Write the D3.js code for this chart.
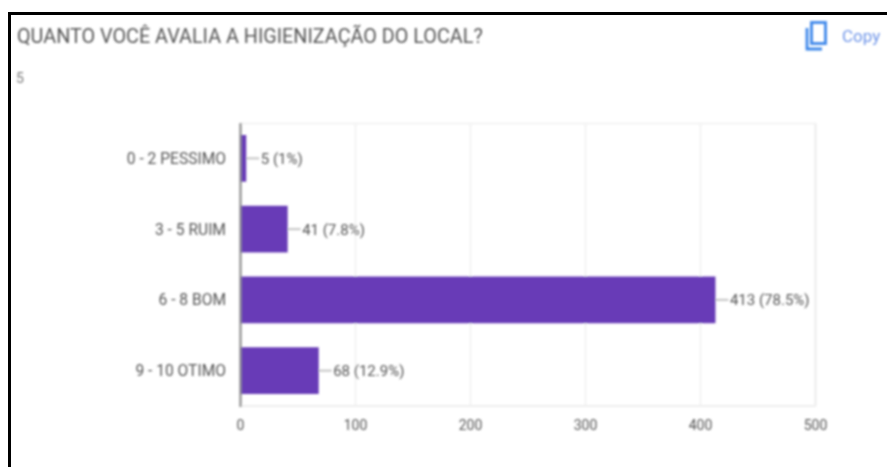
<!DOCTYPE html>
<html><head><meta charset="utf-8">
<script src="https://cdn.jsdelivr.net/npm/d3@7"></script>
<style>html,body{margin:0;background:#fff;overflow:hidden}svg{display:block}text{font-family:Roboto,Arial,sans-serif}</style>
</head><body><svg id="c" width="887" height="467"></svg>
<script>
const categories = ["0 - 2 PESSIMO", "3 - 5 RUIM", "6 - 8 BOM", "9 - 10 OTIMO"];
const values = [5, 41, 413, 68];
const percentLabels = ["1%", "7.8%", "78.5%", "12.9%"];
const xTicks = [0, 100, 200, 300, 400, 500];
const titleText = "QUANTO VOCÊ AVALIA A HIGIENIZAÇÃO DO LOCAL?";

const svg = d3.select("#c");
const defs = svg.append("defs");
defs.append("filter").attr("id","soft").attr("x","-5%").attr("y","-5%").attr("width","110%").attr("height","110%")
  .append("feGaussianBlur").attr("stdDeviation",0.8);
svg.append("path").attr("d","M9.5,467V13.5H887").attr("fill","none").attr("stroke","#000").attr("stroke-width",3);
const root = svg.append("g").attr("filter","url(#soft)");

const x = d3.scaleLinear().domain([0,500]).range([240.5,815.5]);
const y = d3.scaleBand().domain(categories).range([123,406]).paddingInner(0.34).paddingOuter(0.17);

root.append("text").attr("x",17).attr("y",43).attr("font-size",19.8).attr("fill","#555").text(titleText);
root.append("text").attr("x",16).attr("y",83).attr("font-size",14).attr("fill","#777").text("5");

// copy control
const ic = root.append("g").attr("fill","none").attr("stroke","#3d88ea").attr("stroke-width",2.8);
ic.append("rect").attr("x",811.5).attr("y",22.5).attr("width",14).attr("height",21);
ic.append("path").attr("d","M807,28V49H822");
root.append("text").attr("x",842).attr("y",42).attr("font-size",17).attr("fill","#6f95e8").text("Copy");

// grid
root.append("g").selectAll("line").data(xTicks.slice(1)).join("line")
  .attr("x1",d=>x(d)).attr("x2",d=>x(d)).attr("y1",123).attr("y2",406)
  .attr("stroke",d=>d===500?"#ebebeb":"#f0f0f0").attr("stroke-width",d=>d===500?2:1.5);
root.append("line").attr("x1",240).attr("x2",816).attr("y1",123.5).attr("y2",123.5).attr("stroke","#f3f3f3").attr("stroke-width",2);
root.append("line").attr("x1",240).attr("x2",816).attr("y1",406).attr("y2",406).attr("stroke","#eeeeee").attr("stroke-width",2);

// leader lines
root.append("g").selectAll("line").data(values).join("line")
  .attr("x1",d=>x(d)).attr("x2",d=>x(d)+13)
  .attr("y1",(d,i)=>y(categories[i])+y.bandwidth()/2).attr("y2",(d,i)=>y(categories[i])+y.bandwidth()/2)
  .attr("stroke","#c4c4c4").attr("stroke-width",2);

// bars
root.append("g").selectAll("rect").data(values).join("rect")
  .attr("x",x(0)).attr("y",(d,i)=>y(categories[i])).attr("width",d=>x(d)-x(0))
  .attr("height",y.bandwidth()).attr("fill","#673ab7");

// axis line
root.append("line").attr("x1",240.5).attr("x2",240.5).attr("y1",123).attr("y2",407).attr("stroke","#888").attr("stroke-width",2.5).attr("opacity",.85);

// category labels
root.append("g").selectAll("text").data(categories).join("text")
  .attr("x",226).attr("y",d=>y(d)+y.bandwidth()/2).attr("dy","0.36em").attr("text-anchor","end")
  .attr("font-size",15.6).attr("fill","#555").text(d=>d);

// value labels
root.append("g").selectAll("text").data(values).join("text")
  .attr("x",d=>x(d)+14.5).attr("y",(d,i)=>y(categories[i])+y.bandwidth()/2).attr("dy","0.36em")
  .attr("font-size",15).attr("fill","#555").text((d,i)=>`${d} (${percentLabels[i]})`);

// x tick labels
root.append("g").selectAll("text").data(xTicks).join("text")
  .attr("x",d=>x(d)).attr("y",430).attr("text-anchor","middle")
  .attr("font-size",14).attr("fill","#555").text(d=>d);
</script></body></html>
